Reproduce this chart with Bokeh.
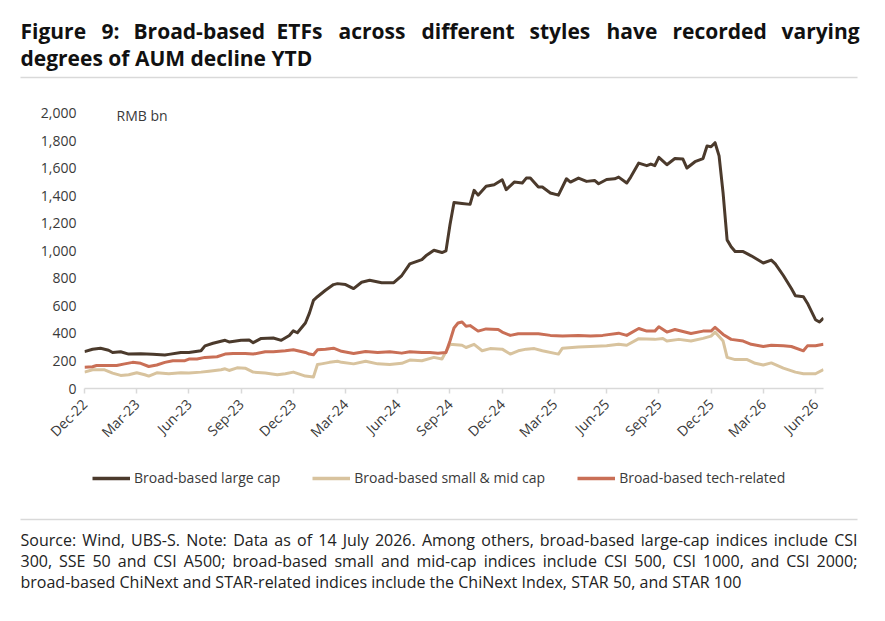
from bokeh.plotting import figure
from bokeh.layouts import column
from bokeh.models import (Range1d, FixedTicker, NumeralTickFormatter, Label,
                          Legend, LegendItem)
from bokeh.embed import file_html
from bokeh.resources import INLINE

# ---------------- data (weekly observations since 30 Dec 2022) ----------------
tick_weeks = [0, 13, 26, 39, 52, 65, 78, 91, 104, 117, 130, 143, 156, 169, 182]
tick_labels = ["Dec-22", "Mar-23", "Jun-23", "Sep-23", "Dec-23", "Mar-24", "Jun-24",
               "Sep-24", "Dec-24", "Mar-25", "Jun-25", "Sep-25", "Dec-25", "Mar-26", "Jun-26"]

large_wk = [0, 2, 4, 6, 7, 9, 11, 14, 17, 20, 21, 24, 26, 29, 30, 32, 35, 36, 39, 41, 42, 44,
            47, 49, 51, 52, 53, 55, 56, 57, 58, 60, 62, 63, 65, 67, 69, 71, 74, 77, 79, 81, 84,
            85, 87, 89, 90, 91, 92, 94, 96, 97, 98, 100, 102, 104, 105, 107, 109, 110, 111,
            113, 114, 116, 118, 120, 121, 123, 125, 127, 128, 130, 132, 133, 135, 136, 138,
            140, 141, 142, 143, 145, 147, 149, 150, 152, 154, 155, 156, 157, 158, 159, 160,
            161, 162, 164, 166, 169, 171, 172, 174, 176, 177, 179, 180, 182, 183, 184]
large_val = [268, 285, 292, 278, 262, 267, 250, 252, 248, 243, 248, 262, 262, 274, 310, 329,
             350, 338, 350, 352, 333, 364, 367, 350, 385, 419, 405, 476, 548, 640, 667, 714,
             755, 762, 755, 726, 772, 786, 769, 769, 821, 905, 936, 964, 1005, 988, 1000, 1190,
             1352, 1345, 1338, 1440, 1405, 1469, 1481, 1517, 1445, 1500, 1493, 1529, 1529, 1464,
             1464, 1421, 1405, 1524, 1500, 1529, 1505, 1512, 1488, 1519, 1524, 1536, 1493, 1536,
             1638, 1619, 1631, 1619, 1679, 1626, 1671, 1667, 1602, 1648, 1671, 1762, 1757, 1786,
             1690, 1420, 1080, 1030, 995, 995, 964, 912, 933, 905, 821, 726, 674, 667, 620, 500,
             483, 512]

small_wk = [0, 2, 5, 7, 9, 11, 13, 15, 16, 18, 21, 24, 26, 29, 31, 34, 35, 36, 38, 40, 42, 45,
            48, 50, 52, 55, 57, 58, 59, 61, 63, 64, 67, 70, 73, 76, 79, 81, 84, 87, 89, 91, 94,
            95, 97, 99, 101, 104, 106, 108, 110, 112, 114, 118, 119, 123, 126, 130, 133, 135,
            138, 142, 144, 145, 148, 151, 154, 156, 157, 159, 160, 162, 165, 167, 169, 171, 174,
            177, 179, 182, 184]
small_val = [119, 136, 136, 112, 95, 100, 114, 100, 90, 114, 107, 114, 112, 119, 126, 136, 143,
             131, 150, 148, 119, 112, 100, 107, 119, 90, 83, 174, 179, 190, 198, 190, 179, 198,
             179, 174, 183, 207, 202, 226, 214, 321, 314, 298, 321, 274, 290, 286, 250, 274, 286,
             290, 274, 250, 293, 302, 305, 310, 321, 314, 362, 357, 364, 345, 357, 345, 364, 381,
             410, 345, 226, 210, 210, 183, 171, 186, 148, 119, 107, 107, 138]

tech_wk = [0, 2, 3, 6, 8, 10, 12, 14, 16, 18, 20, 22, 25, 26, 28, 30, 33, 35, 37, 40, 42, 45,
           47, 50, 52, 55, 56, 57, 58, 60, 62, 64, 67, 70, 73, 76, 79, 81, 84, 86, 88, 90, 91,
           92, 93, 94, 95, 96, 98, 100, 103, 104, 106, 108, 111, 113, 116, 119, 123, 126, 129,
           133, 135, 138, 140, 142, 143, 145, 147, 151, 154, 156, 157, 159, 161, 164, 166, 169,
           171, 174, 176, 179, 180, 182, 184]
tech_val = [155, 158, 167, 167, 167, 179, 190, 183, 160, 171, 190, 202, 202, 214, 214, 226, 231,
            250, 255, 255, 250, 267, 267, 274, 281, 262, 250, 245, 281, 286, 293, 270, 255, 269,
            262, 267, 257, 267, 262, 262, 257, 262, 345, 440, 476, 483, 452, 457, 417, 433, 429,
            410, 386, 398, 398, 398, 386, 381, 386, 381, 386, 402, 386, 436, 417, 417, 448, 410,
            429, 400, 417, 417, 445, 393, 357, 345, 321, 305, 314, 310, 305, 274, 310, 310, 321]

series_names = ["Broad-based large cap", "Broad-based small & mid cap", "Broad-based tech-related"]
series_colors = ["#4B3A2C", "#D8C39E", "#C96F56"]

title_line1 = ["Figure", "9:", "Broad-based", "ETFs", "across", "different", "styles",
               "have", "recorded", "varying"]
title_line2 = "degrees of AUM decline YTD"
source_lines = [
    "Source: Wind, UBS-S. Note: Data as of 14 July 2026. Among others, broad-based large-cap indices include CSI",
    "300, SSE 50 and CSI A500; broad-based small and mid-cap indices include CSI 500, CSI 1000, and CSI 2000;",
    "broad-based ChiNext and STAR-related indices include the ChiNext Index, STAR 50, and STAR 100",
]

# ---------------- layout ----------------
FONT = "Open Sans"
TXT = "#3a3a3a"
W = 885
TOP_H = 85             # title panel: page y 0..85
CH_H = 365             # chart panel: page y 85..450
BOT_H = 171            # legend + source panel: page y 450..621
FL, FR, FB = 84, 823, 394               # chart frame edges in page px
Y_TOP = 2100                            # head-room above the 2,000 tick for the unit label
FT = 99                                 # page y of the frame top (value Y_TOP)
LEFT, RIGHT = 20, 857                   # text block edges
DY = 7                                  # baseline correction for labels

# rough Open Sans Regular advance widths (em) for justifying the note lines
_CW = {" ": .26, ",": .25, ".": .27, ";": .27, ":": .27, "-": .32, "&": .73}
_CW.update({c: .572 for c in "0123456789"})
_CW.update(dict(zip("abcdefghijklmnopqrstuvwxyz",
                    [.556, .613, .48, .613, .561, .34, .55, .614, .252, .252, .53, .252, .93,
                     .614, .6, .613, .613, .408, .478, .35, .614, .5, .77, .52, .5, .46])))
_CW.update(dict(zip("ABCDEFGHIJKLMNOPQRSTUVWXYZ",
                    [.633, .645, .631, .729, .556, .516, .728, .738, .279, .26, .614, .522, .907,
                     .763, .78, .6, .78, .618, .549, .553, .731, .6, .93, .58, .56, .56])))


def est_width(s, size):
    return sum(_CW.get(c, .55) for c in s) * size


def panel(y0, h):
    f = figure(width=W, height=h, output_backend="svg", toolbar_location=None,
               x_range=Range1d(0, W), y_range=Range1d(y0 + h, y0),
               x_axis_location=None, y_axis_location=None, min_border=0,
               frame_align=False)
    f.outline_line_color = None
    f.xgrid.visible = False
    f.ygrid.visible = False
    f.background_fill_color = "white"
    f.border_fill_color = "white"
    return f


# ---- title panel ----
top = panel(0, TOP_H)
title_x = [20, 101, 133, 276, 338, 421, 529, 606, 672, 781]
for word, x in zip(title_line1, title_x):
    top.add_layout(Label(x=x, y=37 - DY, text=word, text_font=FONT, text_font_size="21px",
                         text_font_style="bold", text_color="#111111",
                         text_baseline="alphabetic", text_align="left"))
top.add_layout(Label(x=LEFT, y=64 - DY, text=title_line2, text_font=FONT, text_font_size="21px",
                     text_font_style="bold", text_color="#111111",
                     text_baseline="alphabetic", text_align="left"))
top.segment(x0=[LEFT], y0=[77], x1=[RIGHT], y1=[77], line_color="#d9d9d9", line_width=1.5)

# ---- chart panel ----
p = figure(width=W, height=CH_H, output_backend="svg", toolbar_location=None,
           x_range=Range1d(0, 184), y_range=Range1d(0, Y_TOP), frame_align=False,
           min_border_left=FL, min_border_right=W - FR,
           min_border_top=FT - TOP_H, min_border_bottom=(TOP_H + CH_H) - FB)
p.outline_line_color = None
p.xgrid.visible = False
p.ygrid.visible = False
p.background_fill_color = "white"
p.border_fill_color = "white"

renderers = []
for wk, val, col in [(large_wk, large_val, series_colors[0]),
                     (small_wk, small_val, series_colors[1]),
                     (tech_wk, tech_val, series_colors[2])]:
    renderers.append(p.line(wk, val, line_color=col, line_width=3, line_join="round"))

p.yaxis.ticker = FixedTicker(ticks=list(range(0, 2001, 200)))
p.yaxis.formatter = NumeralTickFormatter(format="0,0")
p.yaxis.axis_line_color = None
p.yaxis.major_tick_line_color = None
p.yaxis.minor_tick_line_color = None
p.yaxis.major_label_text_font = FONT
p.yaxis.major_label_text_font_size = "14px"
p.yaxis.major_label_text_color = TXT
p.yaxis.major_label_standoff = 2

p.xaxis.ticker = FixedTicker(ticks=tick_weeks)
p.xaxis.major_label_overrides = {w: lab for w, lab in zip(tick_weeks, tick_labels)}
p.xaxis.axis_line_color = "#d9d9d9"
p.xaxis.axis_line_width = 1.5
p.xaxis.major_tick_line_color = "#d9d9d9"
p.xaxis.major_tick_line_width = 1.5
p.xaxis.major_tick_out = 5
p.xaxis.major_tick_in = 0
p.xaxis.minor_tick_line_color = None
p.xaxis.major_label_orientation = 0.785398
p.xaxis.major_label_text_font = FONT
p.xaxis.major_label_text_font_size = "14px"
p.xaxis.major_label_text_color = TXT
p.xaxis.major_label_standoff = 8

p.add_layout(Label(x=116 - FL, y=FB - 121, x_units="screen", y_units="screen", text="RMB bn",
                   text_font=FONT, text_font_size="14px", text_color=TXT,
                   text_baseline="alphabetic"))

# ---- legend + source panel ----
Y0 = TOP_H + CH_H
bot = panel(Y0, BOT_H)
dummies = [bot.line(x=[-50, -40], y=[Y0 + 10, Y0 + 10], line_color=c, line_width=3.5)
           for c in series_colors]
legend = Legend(items=[LegendItem(label=n, renderers=[r]) for n, r in zip(series_names, dummies)],
                orientation="horizontal", location=(92, (Y0 + BOT_H) - 487),
                glyph_width=38, glyph_height=16, label_height=16, label_standoff=4,
                spacing=32, padding=0, margin=0, border_line_color=None,
                background_fill_alpha=0, label_text_font=FONT,
                label_text_font_size="14px", label_text_color=TXT)
bot.add_layout(legend, "center")
bot.segment(x0=[LEFT], y0=[519], x1=[RIGHT], y1=[519], line_color="#d9d9d9", line_width=1.5)

NOTE_SIZE = 16
for i, line in enumerate(source_lines):
    ybase = 546 + 21 * i - DY
    words = line.split(" ")
    if i < len(source_lines) - 1:
        widths = [est_width(w, NOTE_SIZE) for w in words]
        gap = (RIGHT - LEFT - sum(widths)) / (len(words) - 1)
        x = LEFT
        for w, wd in zip(words, widths):
            bot.add_layout(Label(x=x, y=ybase, text=w, text_font=FONT,
                                 text_font_size=f"{NOTE_SIZE}px", text_color="#222222",
                                 text_baseline="alphabetic"))
            x += wd + gap
    else:
        bot.add_layout(Label(x=LEFT, y=ybase, text=line, text_font=FONT,
                             text_font_size=f"{NOTE_SIZE}px", text_color="#222222",
                             text_baseline="alphabetic"))

layout = column(top, p, bot, spacing=0)
open("out.html", "w").write(file_html(layout, INLINE))
